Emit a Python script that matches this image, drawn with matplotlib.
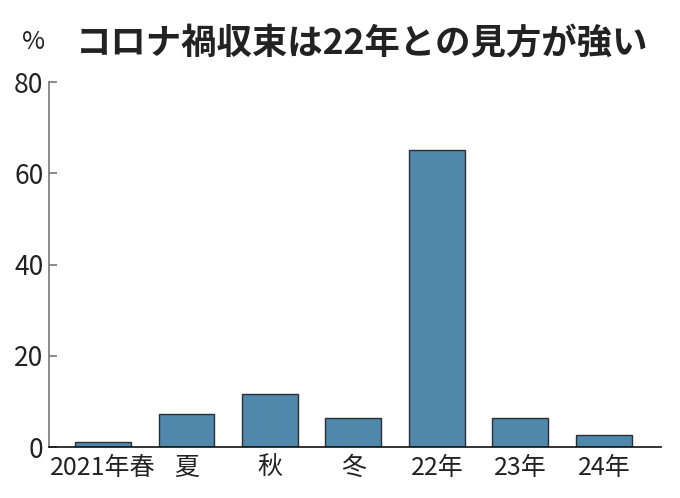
import matplotlib
matplotlib.use("Agg")
import matplotlib.pyplot as plt

# Data
categories = ["2021年春", "夏", "秋", "冬", "22年", "23年", "24年"]
values = [1.0, 7.3, 11.7, 6.3, 65.0, 6.3, 2.7]
y_ticks = [0, 20, 40, 60, 80]

title = "コロナ禍収束は22年との見方が強い"
unit = "%"

plt.rcParams["font.family"] = ["Noto Sans CJK JP", "DejaVu Sans"]

fig = plt.figure(figsize=(6.8, 4.98), dpi=100)
ax = fig.add_axes([0.072, 0.1024, 0.9, 0.7329])

x = list(range(len(categories)))
ax.bar(x, values, width=0.67, color="#5088ab", edgecolor="#2a2f33", linewidth=1.0)

ax.set_xlim(-0.647, 6.683)
ax.set_ylim(0, 80)
ax.set_yticks(y_ticks)
ax.set_yticklabels([str(v) for v in y_ticks], fontsize=19, color="#222222")
ax.set_xticks(x)
ax.set_xticklabels(categories, fontsize=18, color="#222222")

for s in ["top", "right"]:
    ax.spines[s].set_visible(False)
ax.spines["left"].set_color("#777777")
ax.spines["left"].set_linewidth(1.2)
ax.spines["bottom"].set_color("#111111")
ax.spines["bottom"].set_linewidth(1.2)

ax.tick_params(axis="y", direction="in", length=6, width=1.2, color="#777777", pad=4)
ax.tick_params(axis="x", length=0, pad=6)

fig.text(0.032, 0.915, unit, fontsize=18, va="center", color="#222222")
fig.text(0.111, 0.913, title, fontsize=25.5, fontweight="bold", va="center", color="#222222")

fig.savefig("out.png", dpi=100)
